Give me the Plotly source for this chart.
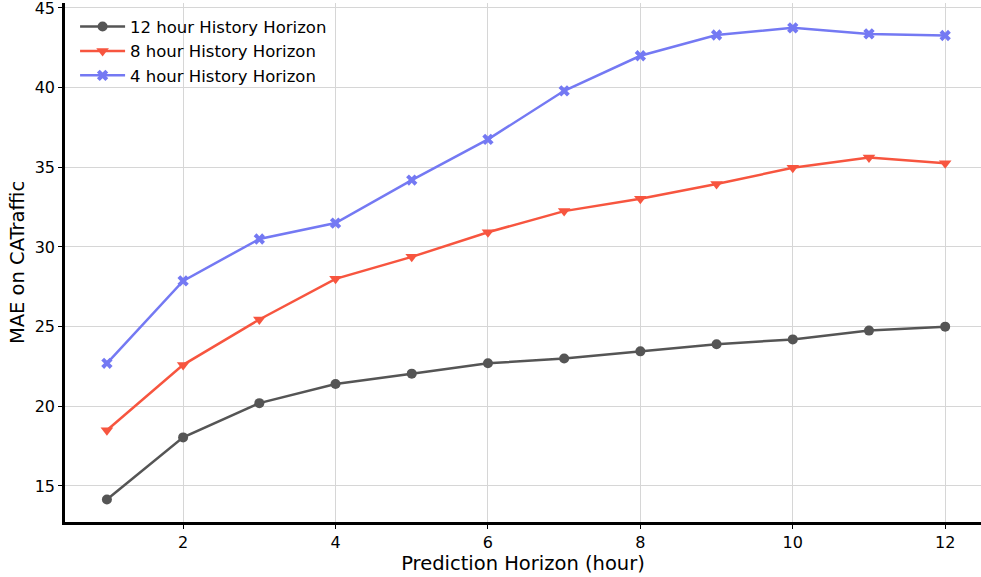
import plotly.graph_objects as go

hours = [1, 2, 3, 4, 5, 6, 7, 8, 9, 10, 11, 12]
mae_12h = [14.15, 18.05, 20.2, 21.4, 22.05, 22.7, 23.0, 23.45, 23.9, 24.2, 24.75, 25.0]
mae_8h = [18.5, 22.6, 25.45, 28.0, 29.38, 30.92, 32.25, 33.02, 33.95, 34.97, 35.62, 35.25]
mae_4h = [22.7, 27.87, 30.5, 31.5, 34.2, 36.75, 39.8, 42.0, 43.3, 43.75, 43.37, 43.27]

series = [
    ("12 hour History Horizon", mae_12h, "#555555", "circle", 10),
    ("8 hour History Horizon", mae_8h, "#f7553f", "triangle-down", 11),
    ("4 hour History Horizon", mae_4h, "#7479f3", "x", 10),
]

fig = go.Figure()
for name, vals, color, sym, size in series:
    fig.add_trace(go.Scatter(
        x=hours, y=vals, name=name, mode="lines+markers",
        line=dict(color=color, width=2.5),
        marker=dict(symbol=sym, size=size, color=color),
    ))

font_family = "DejaVu Sans"
fig.update_layout(
    width=981, height=577,
    margin=dict(l=65, r=0, t=3, b=55, autoexpand=False),
    plot_bgcolor="white", paper_bgcolor="white",
    font=dict(family=font_family, size=16, color="black"),
    showlegend=True,
    legend=dict(x=0.011, y=0.988, xanchor="left", yanchor="top",
                bgcolor="rgba(0,0,0,0)", font=dict(size=16.5),
                tracegroupgap=0, itemwidth=45),
    xaxis=dict(
        range=[0.45, 12.47], tickmode="linear", tick0=0, dtick=2,
        automargin=False, ticklabeloverflow="allow",
        showgrid=True, gridcolor="#d6d6d6", gridwidth=1, zeroline=False,
        showline=True, linecolor="black", linewidth=2.5,
        ticks="outside", ticklen=4, tickcolor="black",
        tickfont=dict(size=16),
        title=dict(text="Prediction Horizon (hour)", font=dict(size=19.5), standoff=5),
    ),
    yaxis=dict(
        range=[12.74, 45.31], tickmode="linear", tick0=0, dtick=5,
        automargin=False, ticklabeloverflow="allow",
        showgrid=True, gridcolor="#d6d6d6", gridwidth=1, zeroline=False,
        showline=True, linecolor="black", linewidth=2.5,
        ticks="outside", ticklen=4, tickcolor="black",
        tickfont=dict(size=16),
        title=dict(text="MAE on CATraffic", font=dict(size=19.5), standoff=5),
    ),
)

fig.write_html("out.html", config={"displayModeBar": False},
               post_script="document.body.style.margin='0';")
